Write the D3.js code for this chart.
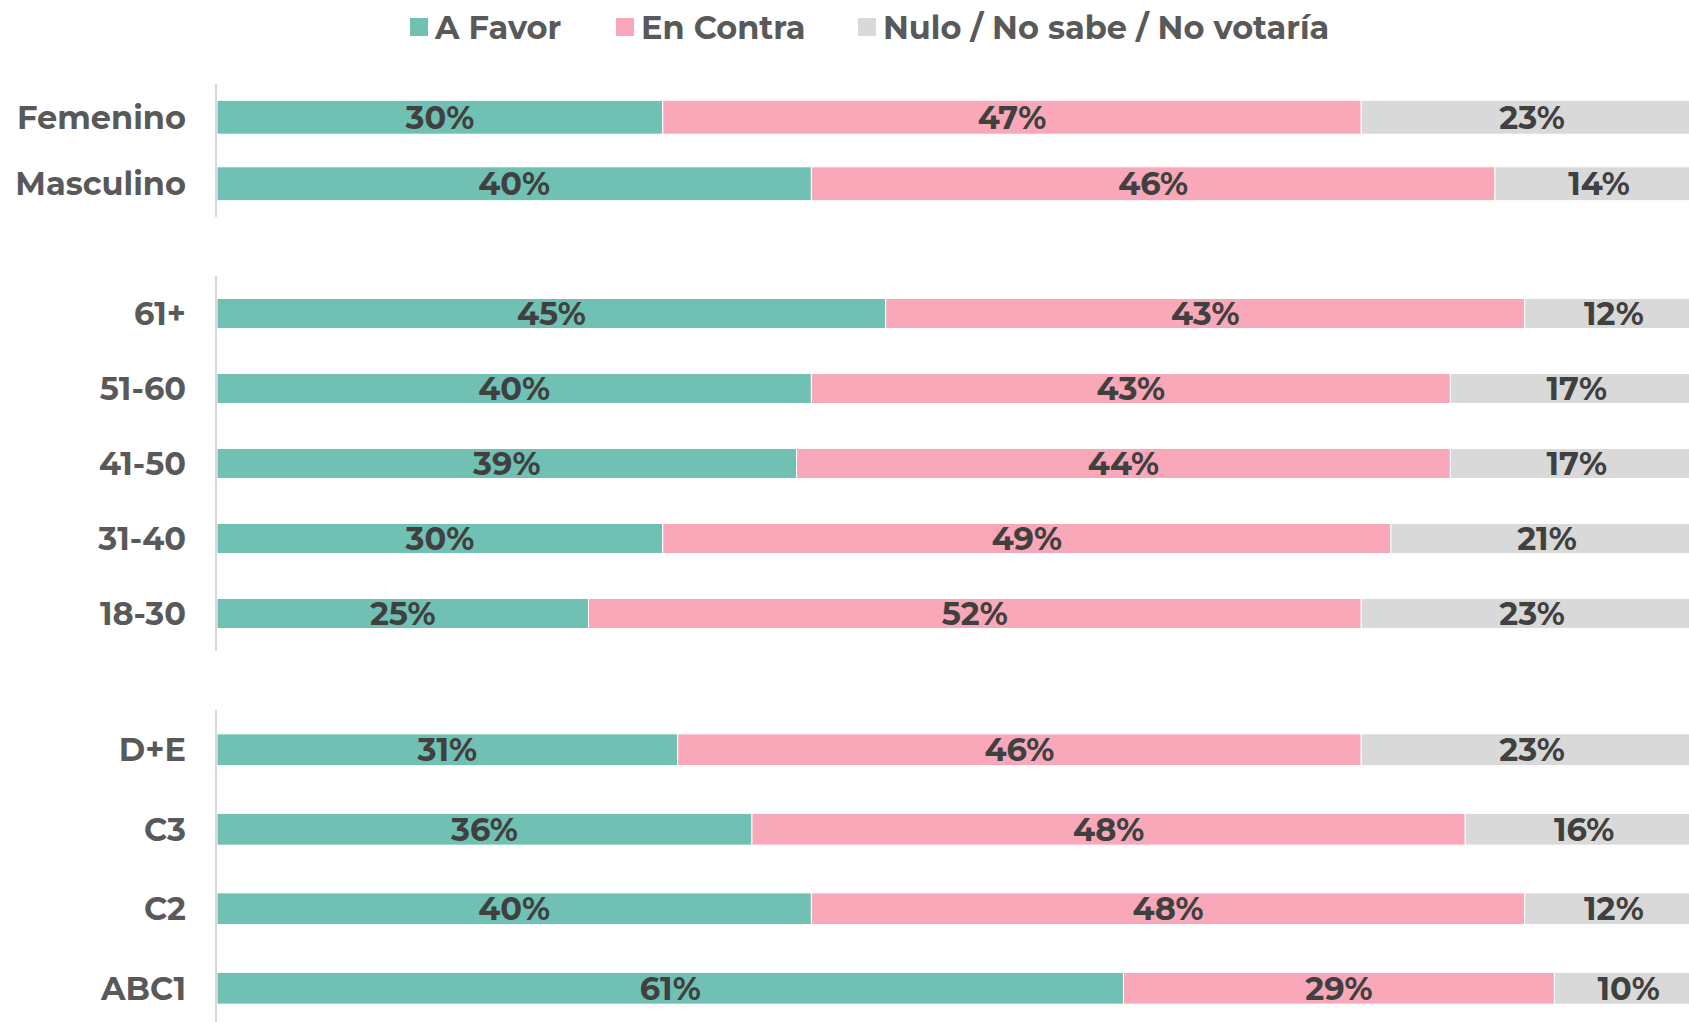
<!DOCTYPE html>
<html>
<head>
<meta charset="utf-8">
<script src="https://cdn.jsdelivr.net/npm/d3@7"></script>
<style>
  body { margin: 0; background: #fff; overflow: hidden; }
  svg { display: block; font-family: Montserrat, "DejaVu Sans", sans-serif; font-weight: bold; }
</style>
</head>
<body>
<svg width="1689" height="1022"></svg>
<script>
// data
var series = ["A Favor", "En Contra", "Nulo / No sabe / No votaría"];
var colors = ["#70c1b3", "#f8a8b8", "#d9d9d9"];

var genero = ["Femenino", "Masculino"];
var edad = ["61+", "51-60", "41-50", "31-40", "18-30"];
var gse = ["D+E", "C3", "C2", "ABC1"];

var aFavor   = { "Femenino": 30, "Masculino": 40, "61+": 45, "51-60": 40, "41-50": 39, "31-40": 30, "18-30": 25, "D+E": 31, "C3": 36, "C2": 40, "ABC1": 61 };
var enContra = { "Femenino": 47, "Masculino": 46, "61+": 43, "51-60": 43, "41-50": 44, "31-40": 49, "18-30": 52, "D+E": 46, "C3": 48, "C2": 48, "ABC1": 29 };
var nulo     = { "Femenino": 23, "Masculino": 14, "61+": 12, "51-60": 17, "41-50": 17, "31-40": 21, "18-30": 23, "D+E": 23, "C3": 16, "C2": 12, "ABC1": 10 };

var svg = d3.select("svg");

var x = d3.scaleLinear().domain([0, 100]).range([217, 1703]);
var stack = d3.stack().keys(series);

// each panel has its own band scale
var panels = [
  { cats: genero, range: [84, 217],  inner: 0.49, outer: 0.245 },
  { cats: edad,   range: [276, 651], inner: 0.6,  outer: 0.3 },
  { cats: gse,    range: [710, 1028], inner: 0.6, outer: 0.3 }
];

panels.forEach(function(p) {
  var y = d3.scaleBand().domain(p.cats).range(p.range)
      .paddingInner(p.inner).paddingOuter(p.outer);

  var rows = p.cats.map(function(c) {
    var r = { cat: c };
    r[series[0]] = aFavor[c];
    r[series[1]] = enContra[c];
    r[series[2]] = nulo[c];
    return r;
  });
  var layers = stack(rows);

  var g = svg.append("g");

  var layer = g.selectAll(".layer")
    .data(layers)
    .enter().append("g")
      .attr("class", "layer")
      .attr("fill", function(d, i) { return colors[i]; });

  layer.selectAll("rect")
    .data(function(d) { return d; })
    .enter().append("rect")
      .attr("x", function(d) { return x(d[0]); })
      .attr("y", function(d) { return y(d.data.cat); })
      .attr("width", function(d) { return x(d[1]) - x(d[0]); })
      .attr("height", y.bandwidth())
      .attr("stroke", "#fff")
      .attr("stroke-width", 1);

  layer.selectAll("text")
    .data(function(d) { return d; })
    .enter().append("text")
      .attr("x", function(d) { return (x(d[0]) + x(d[1])) / 2; })
      .attr("y", function(d) { return y(d.data.cat) + y.bandwidth() / 2; })
      .attr("dy", "0.36em")
      .attr("text-anchor", "middle")
      .style("font-size", "32px")
      .style("fill", "#404040")
      .text(function(d) { return (d[1] - d[0]) + "%"; });

  // category labels
  g.selectAll(".cat")
    .data(p.cats)
    .enter().append("text")
      .attr("class", "cat")
      .attr("x", 186)
      .attr("y", function(d) { return y(d) + y.bandwidth() / 2; })
      .attr("dy", "0.36em")
      .attr("text-anchor", "end")
      .style("font-size", "32px")
      .style("fill", "#595959")
      .text(function(d) { return d; });

  g.append("line")
    .attr("x1", 216).attr("x2", 216)
    .attr("y1", p.range[0]).attr("y2", p.range[1])
    .style("stroke", "#d9d9d9")
    .style("stroke-width", 2);
});

// legend
var legendX = [410, 616, 858];
var legend = svg.append("g").selectAll("g")
  .data(series)
  .enter().append("g")
    .attr("transform", function(d, i) { return "translate(" + legendX[i] + ",18)"; });

legend.append("rect")
  .attr("width", 18).attr("height", 18)
  .attr("fill", function(d, i) { return colors[i]; });

legend.append("text")
  .attr("x", 25)
  .attr("y", 9)
  .attr("dy", "0.36em")
  .style("font-size", "32px")
  .style("fill", "#595959")
  .text(function(d) { return d; });
</script>
</body>
</html>
